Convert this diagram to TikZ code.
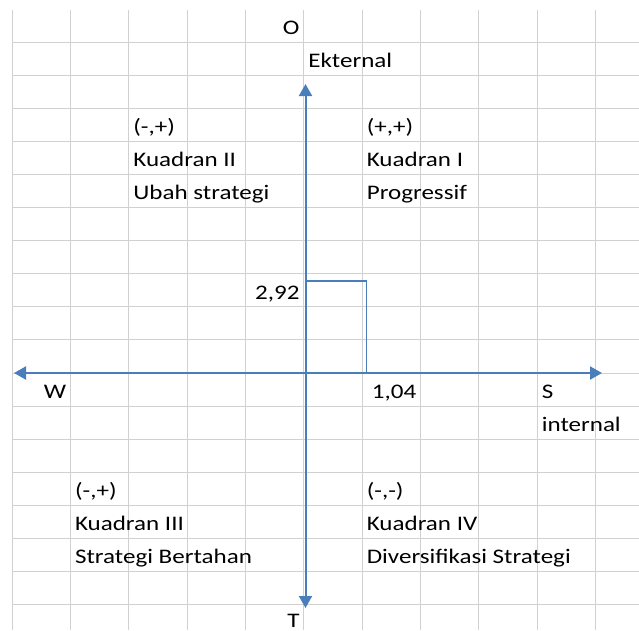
\documentclass[tikz,border=0pt]{standalone}
\usepackage{fontspec}
\usetikzlibrary{arrows.meta, calc, positioning}
\newfontfamily\cellfont[FakeStretch=1.21]{Carlito}
\definecolor{axisblue}{RGB}{74,126,187}
\definecolor{gridgray}{RGB}{208,208,208}

% column / row helpers (pixel units)
\newcommand\colL[1]{\gx+#1*\cw+4.5}
\newcommand\colR[1]{\gx+(#1+1)*\cw-4}
\newcommand\rowB[1]{\gy+#1*\ch-7.7}

\begin{document}
\begin{tikzpicture}[x=1pt, y=-1pt,
    gridline/.style={draw=gridgray, line width=1pt},
    axisline/.style={draw=axisblue, line width=2pt, {Triangle[width=13pt, length=12pt]}-{Triangle[width=13pt, length=12pt]}},
    markline/.style={draw=axisblue, line width=1.8pt},
    cellL/.style={anchor=base west, inner sep=0pt, font=\cellfont\fontsize{20.7}{24}\selectfont},
    cellR/.style={anchor=base east, inner sep=0pt, font=\cellfont\fontsize{20.7}{24}\selectfont}]%
    \def\gx{12}   % left grid line
    \def\gy{42}   % first row line
    \def\cw{58.35}
    \def\ch{33.1}
    \useasboundingbox (0,0) rectangle (639,630);
    \fill [white] (0,0) rectangle (639,630);
    % spreadsheet grid
    \foreach \i in {0,...,10}{
        \draw [gridline] ({\gx+\i*\cw},10) -- ({\gx+\i*\cw},630);
    }
    \foreach \j in {0,...,17}{
        \draw [gridline] (\gx,{\gy+\j*\ch}) -- (639,{\gy+\j*\ch});
    }
    % axes
    \coordinate (wEnd) at (14,373);
    \coordinate (sEnd) at (602,373);
    \coordinate (oEnd) at (305.5,84);
    \coordinate (tEnd) at (305.5,608);
    \draw [axisline] (wEnd) -- (sEnd);
    \draw [axisline] (tEnd) -- (oEnd);
    % position mark
    \coordinate (yMark) at (305.5,281);
    \coordinate (xMark) at (366.5,373);
    \draw [markline] (yMark) -| (xMark);

    % axis labels
    \node (oLabel) [cellR] at ({\colR{4}},{\rowB{0}}) {O};
    \node (ekLabel) [cellL] at ({\colL{5}},{\rowB{1}}) {Ekternal};
    \node (wLabel) [cellR] at ({\colR{0}},{\rowB{11}}) {W};
    \node (sLabel) [cellL] at ({\colL{9}},{\rowB{11}}) {S};
    \node (inLabel) [cellL] at ({\colL{9}},{\rowB{12}}) {internal};
    \node (tLabel) [cellR] at ({\colR{4}},627) {T};
    \node (yVal) [cellR] at ({\colR{4}},{\rowB{8}}) {2,92};
    \node (xVal) [cellR] at ({\colR{6}},{\rowB{11}}) {1,04};

    % quadrants
    \node (q2Sign) [cellL] at ({\colL{2}},{\rowB{3}}) {(-,+)};
    \node (q2Name) [cellL] at ({\colL{2}},{\rowB{4}}) {Kuadran II};
    \node (q2Text) [cellL] at ({\colL{2}},{\rowB{5}}) {Ubah strategi};
    \node (q1Sign) [cellL] at ({\colL{6}},{\rowB{3}}) {(+,+)};
    \node (q1Name) [cellL] at ({\colL{6}},{\rowB{4}}) {Kuadran I};
    \node (q1Text) [cellL] at ({\colL{6}},{\rowB{5}}) {Progressif};
    \node (q3Sign) [cellL] at ({\colL{1}},{\rowB{14}}) {(-,+)};
    \node (q3Name) [cellL] at ({\colL{1}},{\rowB{15}}) {Kuadran III};
    \node (q3Text) [cellL] at ({\colL{1}},{\rowB{16}}) {Strategi Bertahan};
    \node (q4Sign) [cellL] at ({\colL{6}},{\rowB{14}}) {(-,-)};
    \node (q4Name) [cellL] at ({\colL{6}},{\rowB{15}}) {Kuadran IV};
    \node (q4Text) [cellL] at ({\colL{6}},{\rowB{16}}) {Diversifikasi Strategi};
\end{tikzpicture}
\end{document}
